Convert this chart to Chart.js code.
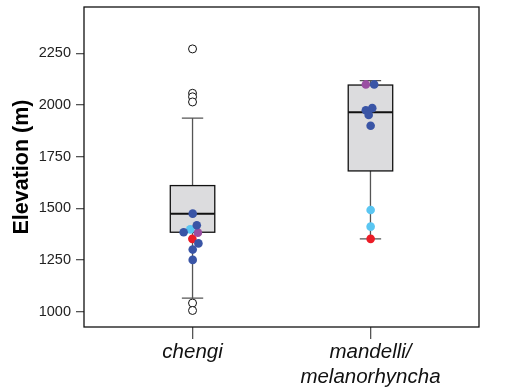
<!DOCTYPE html>
<html>
<head>
<meta charset="utf-8">
<script src="https://cdn.jsdelivr.net/npm/chart.js@4.4.1/dist/chart.umd.min.js"></script>
<style>
  html, body { margin: 0; padding: 0; background: #fff; }
  #wrap { width: 510px; height: 392px; }
</style>
</head>
<body>
<div id="wrap"><canvas id="chart" width="510" height="392"></canvas></div>
<script>
// categories sit at x = 1 and x = 2
const categories = ['chengi', ['mandelli/', 'melanorhyncha']];
const yTicks = [1000, 1250, 1500, 1750, 2000, 2250];

// box summary per category
const whiskerLow = [1065, 1352];
const q1 = [1384, 1681];
const median = [1474, 1965];
const q3 = [1610, 2097];
const whiskerHigh = [1937, 2118];

// open-circle outliers (chengi only)
const outliers = [
    { x: 1, y: 2272 }, { x: 1, y: 2057 }, { x: 1, y: 2040 }, { x: 1, y: 2015 },
    { x: 1, y: 1041 }, { x: 1, y: 1005 }
];

// coloured individuals (x = category + jitter)
const bluePts = [
    { x: 1.001, y: 1474 }, { x: 1.024, y: 1418 }, { x: 0.95, y: 1384 },
    { x: 1.033, y: 1330 }, { x: 1.001, y: 1300 }, { x: 1.001, y: 1250 },
    { x: 2.021, y: 2100 }, { x: 2.01, y: 1985 }, { x: 1.974, y: 1975 },
    { x: 1.99, y: 1952 }, { x: 2.001, y: 1900 }
];
const lightBluePts = [{ x: 0.987, y: 1398 }, { x: 2.001, y: 1492 }, { x: 2.001, y: 1411 }];
const purplePts = [{ x: 1.03, y: 1382 }, { x: 1.974, y: 2100 }];
const redPts = [{ x: 0.999, y: 1352 }, { x: 2.001, y: 1352 }];

const boxPlugin = {
    id: 'boxes',
    beforeDatasetsDraw(chart) {
        const ctx = chart.ctx;
        const xs = chart.scales.x;
        const ys = chart.scales.y;
        const boxHalf = 0.125;
        const capHalf = 0.06;
        ctx.save();
        for (let i = 0; i < categories.length; i++) {
            const c = i + 1;
            const xc = xs.getPixelForValue(c);
            // whisker
            ctx.strokeStyle = '#555';
            ctx.lineWidth = 1.3;
            ctx.beginPath();
            ctx.moveTo(xc, ys.getPixelForValue(whiskerLow[i]));
            ctx.lineTo(xc, ys.getPixelForValue(whiskerHigh[i]));
            [whiskerLow[i], whiskerHigh[i]].forEach(v => {
                const py = ys.getPixelForValue(v);
                ctx.moveTo(xs.getPixelForValue(c - capHalf), py);
                ctx.lineTo(xs.getPixelForValue(c + capHalf), py);
            });
            ctx.stroke();
            // box
            const left = xs.getPixelForValue(c - boxHalf);
            const right = xs.getPixelForValue(c + boxHalf);
            const top = ys.getPixelForValue(q3[i]);
            const bottom = ys.getPixelForValue(q1[i]);
            ctx.fillStyle = '#dcdcde';
            ctx.fillRect(left, top, right - left, bottom - top);
            ctx.strokeStyle = '#111';
            ctx.lineWidth = 1.3;
            ctx.strokeRect(left, top, right - left, bottom - top);
            // median
            ctx.lineWidth = 2;
            ctx.beginPath();
            const my = ys.getPixelForValue(median[i]);
            ctx.moveTo(left, my);
            ctx.lineTo(right, my);
            ctx.stroke();
        }
        ctx.restore();
    },
    afterDraw(chart) {
        const a = chart.chartArea;
        const ctx = chart.ctx;
        ctx.save();
        ctx.strokeStyle = '#111';
        ctx.lineWidth = 1.3;
        ctx.strokeRect(a.left, a.top, a.right - a.left, a.bottom - a.top);
        ctx.restore();
    }
};

function pointSet(data, color) {
    return {
        type: 'scatter',
        data: data,
        pointRadius: 4.3,
        pointHoverRadius: 4.3,
        pointBackgroundColor: color,
        pointBorderColor: color,
        pointBorderWidth: 0
    };
}

function noPad(scale) {
    scale.paddingTop = 0;
    scale.paddingBottom = 0;
    scale.paddingLeft = 0;
    scale.paddingRight = 0;
}

new Chart(document.getElementById('chart'), {
    type: 'scatter',
    data: {
        datasets: [
            {
                data: outliers,
                pointRadius: 4,
                pointBackgroundColor: '#fff',
                pointBorderColor: '#111',
                pointBorderWidth: 1
            },
            pointSet(bluePts, '#3a55a6'),
            pointSet(lightBluePts, '#5ac6f2'),
            pointSet(purplePts, '#9a4fa2'),
            pointSet(redPts, '#ec1c26')
        ]
    },
    options: {
        responsive: false,
        animation: false,
        layout: { padding: { left: 0, right: 31, top: 7, bottom: 0 } },
        plugins: {
            legend: { display: false },
            tooltip: { enabled: false }
        },
        scales: {
            x: {
                type: 'linear',
                min: 0.39,
                max: 2.61,
                afterBuildTicks: scale => {
                    scale.ticks = categories.map((c, i) => ({ value: i + 1 }));
                },
                afterFit: scale => { scale.height = 65; noPad(scale); },
                ticks: {
                    callback: (v) => categories[Math.round(v) - 1],
                    color: '#111',
                    padding: 1,
                    maxRotation: 0,
                    font: { family: 'Liberation Sans, Arial, sans-serif', size: 20.5, style: 'italic', lineHeight: 1.22 }
                },
                grid: { drawOnChartArea: false, tickLength: 12, color: '#555', lineWidth: 1.3 },
                border: { display: false }
            },
            y: {
                min: 925,
                max: 2475,
                afterBuildTicks: scale => {
                    scale.ticks = yTicks.map(v => ({ value: v }));
                },
                afterFit: scale => { scale.width = 84; noPad(scale); },
                ticks: {
                    callback: (v) => String(v),
                    color: '#222',
                    padding: 5,
                    font: { family: 'Liberation Sans, Arial, sans-serif', size: 14.5 }
                },
                grid: { drawOnChartArea: false, tickLength: 8, color: '#555', lineWidth: 1.3 },
                border: { display: false },
                title: {
                    display: true,
                    text: 'Elevation (m)',
                    color: '#000',
                    padding: { top: 9, bottom: 0 },
                    font: { family: 'Liberation Sans, Arial, sans-serif', size: 21.5, weight: 'bold' }
                }
            }
        }
    },
    plugins: [boxPlugin]
});
</script>
</body>
</html>
